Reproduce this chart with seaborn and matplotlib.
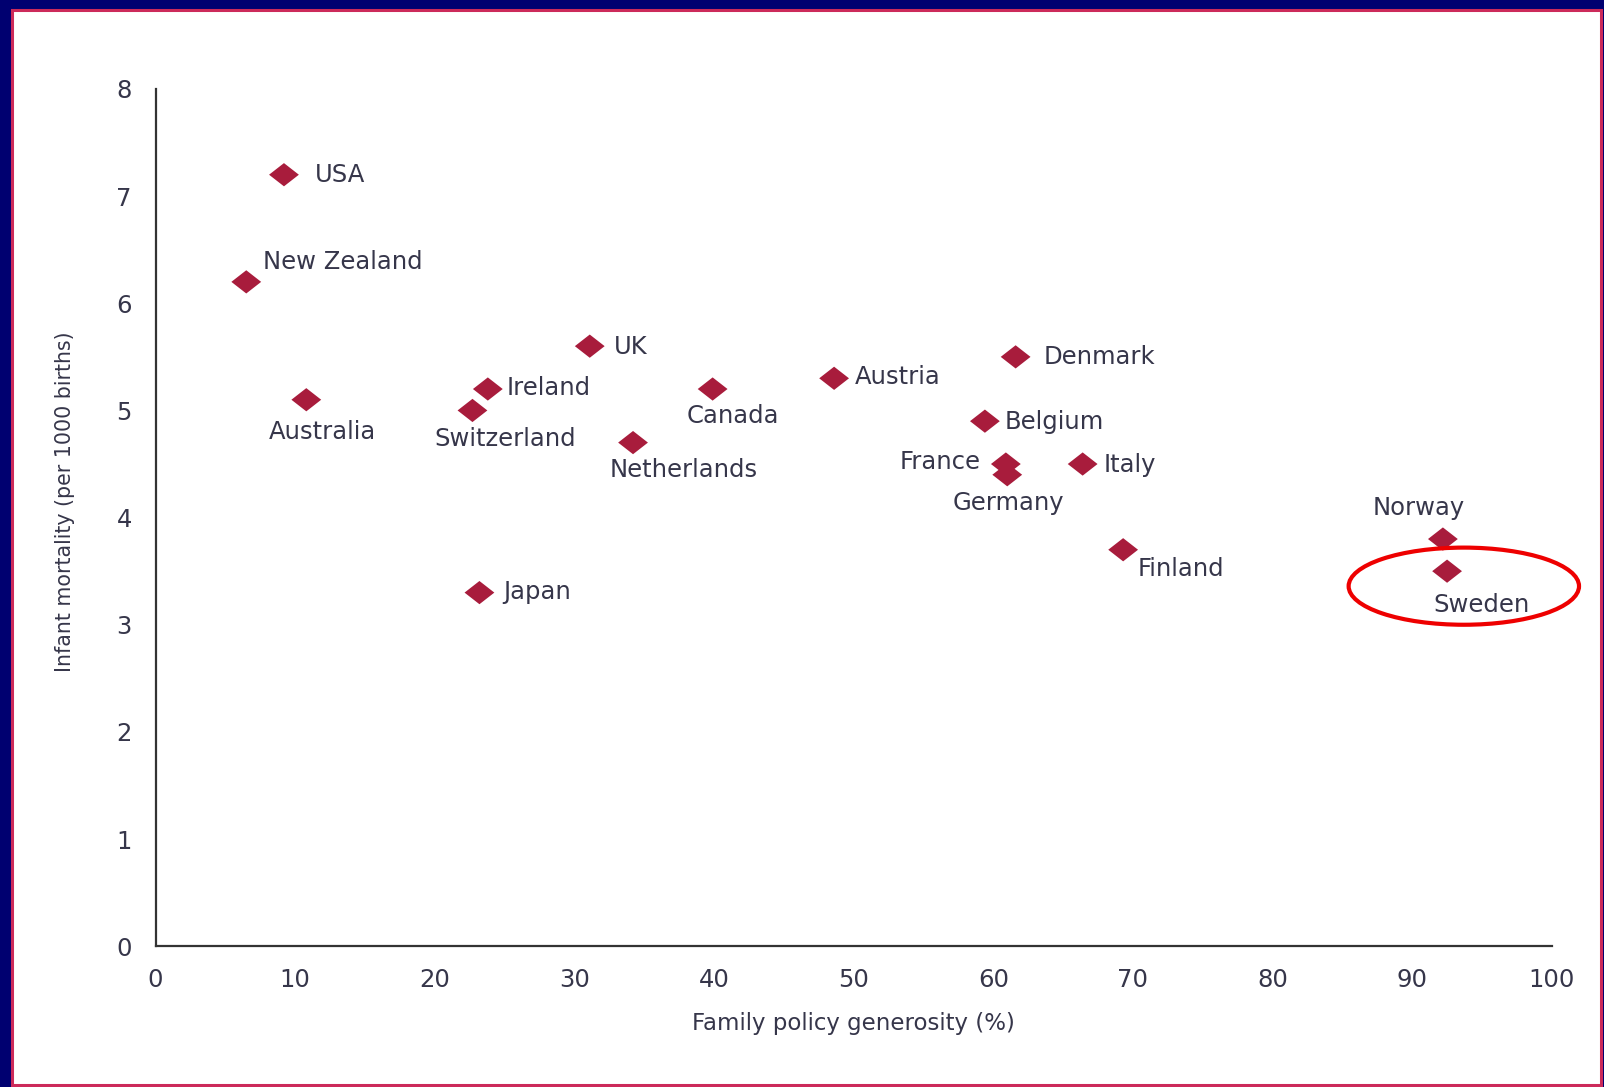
import matplotlib
matplotlib.use('Agg')
import matplotlib.pyplot as plt
import seaborn as sns
import pandas as pd
from matplotlib.patches import Rectangle, Ellipse
from matplotlib.path import Path

# data
countries = ['USA', 'New Zealand', 'Australia', 'UK', 'Ireland', 'Switzerland',
             'Canada', 'Netherlands', 'Austria', 'Denmark', 'Belgium', 'France',
             'Germany', 'Italy', 'Finland', 'Norway', 'Sweden', 'Japan']
generosity = [9.2, 6.5, 10.8, 31.1, 23.8, 22.7,
              39.9, 34.2, 48.6, 61.6, 59.4, 60.9,
              61.0, 66.4, 69.3, 92.2, 92.5, 23.2]
mortality = [7.2, 6.2, 5.1, 5.6, 5.2, 5.0,
             5.2, 4.7, 5.3, 5.5, 4.9, 4.5,
             4.4, 4.5, 3.7, 3.8, 3.5, 3.3]

df = pd.DataFrame({'country': countries, 'x': generosity, 'y': mortality})

# label offsets in pixels (dx, dy, alignment)
offsets = {
    'USA': (31, 0, 'left'), 'New Zealand': (17, 20, 'left'),
    'Australia': (16, -32, 'center'), 'UK': (24, -1, 'left'),
    'Ireland': (19, 1, 'left'), 'Switzerland': (33, -29, 'center'),
    'Canada': (20, -27, 'center'), 'Netherlands': (51, -27, 'center'),
    'Austria': (21, 1, 'left'), 'Denmark': (28, 0, 'left'),
    'Belgium': (20, -1, 'left'), 'France': (-25, 2, 'right'),
    'Germany': (1, -28, 'center'), 'Italy': (21, -1, 'left'),
    'Finland': (14, -19, 'left'), 'Norway': (-24, 31, 'center'),
    'Sweden': (34, -34, 'center'), 'Japan': (24, 1, 'left'),
}

sns.set_style('white')
plt.rcParams['font.family'] = ['DejaVu Sans']

text_col = '#36364a'
mark_col = '#a81c3c'

W, H = 1604, 1087
fig = plt.figure(figsize=(W / 100, H / 100), dpi=100, facecolor='#000070')
fig.patches.append(Rectangle((12 / W, 2 / H), 1589 / W, 1075 / H,
                             transform=fig.transFigure, facecolor='white',
                             edgecolor='#cc2a5a', linewidth=2.2, zorder=-5))

# axes box in pixels of the output image
x0, x1, y_top, y_bot = 155.5, 1551.8, 89, 946.2
ax = fig.add_axes([x0 / W, 1 - y_bot / H, (x1 - x0) / W, (y_bot - y_top) / H])
ax.set_facecolor('none')

diamond = Path([(-1, 0), (0, 0.78), (1, 0), (0, -0.78), (-1, 0)],
               [Path.MOVETO, Path.LINETO, Path.LINETO, Path.LINETO, Path.CLOSEPOLY])
sns.scatterplot(data=df, x='x', y='y', marker=diamond, s=460, color=mark_col,
                edgecolor='none', ax=ax, zorder=3)

for c, x, y in zip(countries, generosity, mortality):
    dx, dy, ha = offsets[c]
    ax.annotate(c, (x, y), xytext=(dx, dy), textcoords='offset pixels',
                ha=ha, va='center', fontsize=17.5, color=text_col)

ax.add_patch(Ellipse((93.7, 3.36), 16.5, 0.72, fill=False, edgecolor='#ee0000',
                     linewidth=3, clip_on=False, zorder=4))

ax.set_xlim(0, 100)
ax.set_ylim(0, 8)
ax.set_xticks(range(0, 101, 10))
ax.set_yticks(range(0, 9))
sns.despine(ax=ax)
for s in ['left', 'bottom']:
    ax.spines[s].set_color('#333333')
    ax.spines[s].set_linewidth(1.6)
ax.tick_params(axis='both', direction='out', length=12, width=1.6, color='#333333',
               labelsize=17.5, labelcolor=text_col)
ax.tick_params(axis='x', pad=4)
ax.tick_params(axis='y', pad=5)
ax.set_xlabel('Family policy generosity (%)', fontsize=16.5, color=text_col)
ax.set_ylabel('Infant mortality (per 1000 births)', fontsize=14.8, color=text_col)
ax.xaxis.set_label_coords(0.5, -0.090)
ax.xaxis.label.set_va('center')
ax.yaxis.set_label_coords(-0.065, 0.518)
ax.yaxis.label.set_va('center')

fig.savefig('out.png', dpi=100, facecolor=fig.get_facecolor())
